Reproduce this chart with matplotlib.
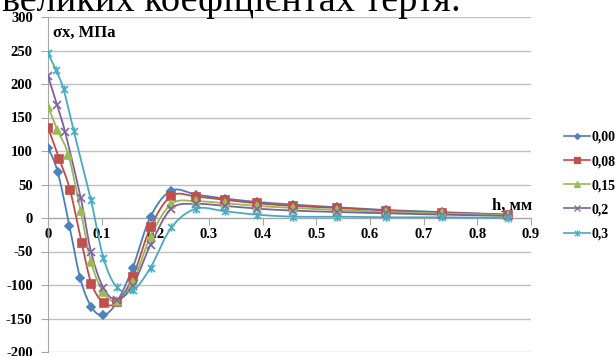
import numpy as np
import matplotlib
matplotlib.use('Agg')
import matplotlib.pyplot as plt
from matplotlib.path import Path

# товщина шару h, мм і напруження σx, МПа для кожного коефіцієнта тертя
h_000 = [0, 0.018, 0.040, 0.060, 0.081, 0.103, 0.128, 0.158, 0.191, 0.230, 0.276, 0.330, 0.389, 0.457, 0.538, 0.629, 0.734, 0.857]
s_000 = [105, 69, -12, -90, -133, -145, -126, -74, 2, 41, 35, 29, 24, 20, 16, 12, 9, 5]

h_008 = [0, 0.021, 0.041, 0.063, 0.081, 0.104, 0.128, 0.158, 0.191, 0.230, 0.276, 0.330, 0.389, 0.457, 0.538, 0.629, 0.734, 0.857]
s_008 = [135, 88, 42, -38, -98, -127, -126, -88, -14, 33, 32, 27, 22, 18, 15, 11, 8, 5]

h_015 = [0, 0.017, 0.038, 0.061, 0.080, 0.103, 0.128, 0.158, 0.191, 0.230, 0.276, 0.330, 0.389, 0.457, 0.538, 0.629, 0.734, 0.857]
s_015 = [166, 132, 94, 10, -65, -111, -124, -96, -28, 21, 25, 22, 18, 15, 12, 9, 7, 4]

h_02 = [0, 0.017, 0.032, 0.061, 0.080, 0.103, 0.128, 0.158, 0.191, 0.230, 0.276, 0.330, 0.389, 0.457, 0.538, 0.629, 0.734, 0.857]
s_02 = [212, 168, 128, 30, -50, -104, -122, -101, -40, 14, 21, 18, 14, 11, 9, 7, 5, 3]

h_03 = [0, 0.015, 0.029, 0.048, 0.080, 0.103, 0.128, 0.158, 0.191, 0.230, 0.276, 0.330, 0.389, 0.457, 0.538, 0.629, 0.734, 0.857]
s_03 = [246, 221, 192, 130, 27, -59, -103, -108, -74, -14, 14, 10, 5, 2, 2, 1, 1, 0]

labels = ['0,00', '0,08', '0,15', '0,2', '0,3']
x_ticks = [0, 0.1, 0.2, 0.3, 0.4, 0.5, 0.6, 0.7, 0.8, 0.9]
y_ticks = [-200, -150, -100, -50, 0, 50, 100, 150, 200, 250, 300]

matplotlib.rcParams['font.family'] = 'Liberation Serif'
matplotlib.rcParams['font.weight'] = 'bold'
matplotlib.rcParams['axes.unicode_minus'] = False

# зірочка як в Excel: хрестик + вертикальна риска
star = Path([(-1, -1), (1, 1), (-1, 1), (1, -1), (0, -1.2), (0, 1.2)],
            [Path.MOVETO, Path.LINETO, Path.MOVETO, Path.LINETO, Path.MOVETO, Path.LINETO])


def smooth(xs, ys, n=24):
    """Згладжена лінія через точки (кубічні Безьє, як у Excel)"""
    pts = np.column_stack([xs, ys]).astype(float)
    P = np.vstack([pts[0], pts, pts[-1]])
    t = np.linspace(0, 1, n)[:, None]
    out = []
    for i in range(1, len(P) - 2):
        p0, p1, p2, p3 = P[i - 1], P[i], P[i + 1], P[i + 2]
        c1 = p1 + (p2 - p0) / 6
        c2 = p2 - (p3 - p1) / 6
        out.append((1 - t) ** 3 * p1 + 3 * (1 - t) ** 2 * t * c1 + 3 * (1 - t) * t ** 2 * c2 + t ** 3 * p2)
    seg = np.vstack(out)
    return seg[:, 0], seg[:, 1]


series = [
    (h_000, s_000, '#4a7ebb', '#4f81bd', 'D', 4.5),
    (h_008, s_008, '#be4b48', '#c0504d', 's', 5.5),
    (h_015, s_015, '#98b954', '#9bbb59', '^', 5.5),
    (h_02, s_02, '#7d60a0', '#8064a2', 'x', 5.5),
    (h_03, s_03, '#46aac5', '#4bacc6', star, 6),
]

fig = plt.figure(figsize=(6.16, 3.56), dpi=100)
fig.patch.set_facecolor('white')
ax = fig.add_axes([48 / 616, 4 / 356, 483 / 616, 335 / 356])

handles = []
for (hx, sy, lc, mc, mk, ms), lab in zip(series, labels):
    sx, ss = smooth(hx, sy)
    ax.plot(sx, ss, color=lc, lw=1.3, zorder=3)
    ax.plot(hx, sy, ls='none', marker=mk, ms=ms, color=mc, mec=mc, mew=1.2, zorder=4)
    hd, = ax.plot([], [], color=lc, lw=1.2, marker=mk, ms=ms - 1.5, mfc=mc, mec=mc, mew=0.9)
    handles.append(hd)

ax.set_xlim(0, 0.9)
ax.set_ylim(-200, 300)
ax.set_yticks(y_ticks)
ax.set_yticklabels([str(v) for v in y_ticks])
ax.set_xticks(x_ticks)
ax.set_xticklabels(['0' if v == 0 else '%g' % v for v in x_ticks])

ax.grid(axis='y', color='#c0c0c0', lw=1)
ax.set_axisbelow(True)
for side in ['top', 'right']:
    ax.spines[side].set_visible(False)
ax.spines['bottom'].set_position(('data', 0))
ax.spines['bottom'].set_color('#a6a6a6')
ax.spines['left'].set_color('#a6a6a6')
ax.tick_params(axis='y', direction='out', length=5, color='#a6a6a6', labelsize=10.5, pad=6)
ax.tick_params(axis='x', direction='out', length=5, color='#a6a6a6', labelsize=10.5, pad=2)
for lab in ax.get_xticklabels() + ax.get_yticklabels():
    lab.set_fontweight('bold')

ax.text(0.01, 277, 'σx, МПа', fontsize=12, fontweight='bold', va='center', ha='left')
ax.text(0.828, 18, 'h, мм', fontsize=12, fontweight='bold', va='center', ha='left')

fig.legend(handles, labels, loc='upper left', bbox_to_anchor=(557 / 616, 1 - 124 / 356),
           frameon=False, handlelength=1.9, handletextpad=0.1,
           labelspacing=0.8, borderpad=0, prop={'weight': 'bold', 'size': 10})

fig.text(0.004, 1 - 11 / 356, 'великих коефіцієнтах тертя:', fontsize=27.5, fontweight='normal',
         ha='left', va='baseline')

fig.savefig('out.png', dpi=100)
